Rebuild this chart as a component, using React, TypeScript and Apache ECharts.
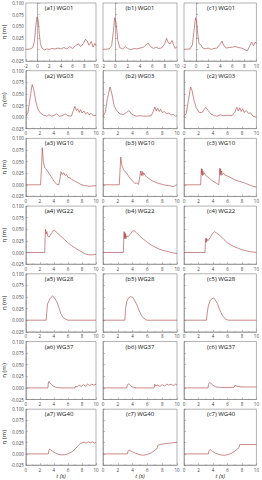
import React, { useEffect, useRef } from "react";
import * as echarts from "echarts";

// ---- data: [t (s), eta (m)] ----
const a1 = [[-2,0],[-1.2,0.001],[-0.8,0.004],[-0.5,0.02],[-0.3,0.05],[-0.1,0.07],[0.1,0.065],[0.3,0.035],[0.5,0.012],[0.8,0.002],[1.2,-0.001],[1.6,0.001],[2,0.0],[2.5,0.002],[3,0.001],[3.5,0.003],[4,0.001],[4.5,0.004],[5,0.001],[5.5,0.006],[6,0.002],[6.5,0.008],[7,0.012],[7.4,0.006],[7.8,0.012],[8.2,0.022],[8.5,0.018],[8.8,0.009],[9.2,0.017],[9.5,0.005],[9.8,0.013],[10,0.008]];
const b1 = [[-2,0],[-1,0.001],[-0.6,0.008],[-0.3,0.04],[-0.1,0.068],[0.1,0.06],[0.4,0.02],[0.7,0.004],[1.2,0.001],[1.6,0.006],[2,0.002],[2.5,-0.001],[3,0.002],[3.5,0.001],[4,0.003],[4.5,0.004],[5,0.01],[5.3,0.014],[5.7,0.006],[6.2,0.002],[6.6,0.005],[7,0.002],[7.5,0.003],[8,0.012],[8.3,0.024],[8.6,0.014],[8.9,0.012],[9.2,0.019],[9.5,0.008],[9.7,0.002],[10,0.006]];
const c1 = [[-2,0],[-1,0.001],[-0.6,0.01],[-0.3,0.045],[-0.1,0.068],[0.1,0.06],[0.3,0.03],[0.5,0.012],[0.8,0.01],[1.1,0.003],[1.5,0.001],[2,0.003],[2.5,0.0],[3,0.002],[3.5,0.003],[4,0.012],[4.3,0.018],[4.6,0.008],[5,0.003],[5.5,0.004],[6,0.005],[6.5,0.006],[7,0.004],[7.5,0.003],[8,0.0],[8.5,-0.003],[8.8,0.005],[9.2,0.016],[9.5,0.008],[9.8,0.016],[10,0.012]];

const a2 = [[0,0.002],[0.3,0.01],[0.6,0.04],[0.9,0.07],[1.1,0.062],[1.4,0.035],[1.7,0.018],[2,0.01],[2.5,0.004],[3,0.002],[3.3,0.005],[3.7,0.002],[4.1,0.004],[4.4,0.007],[4.8,0.002],[5.2,0.003],[5.6,0.007],[6,0.003],[6.5,0.002],[6.8,0.015],[7,0.023],[7.2,0.014],[7.4,0.018],[7.6,0.01],[7.8,0.016],[8,0.009],[8.3,0.013],[8.5,0.007],[8.8,0.01],[9,0.005],[9.3,0.008],[9.6,0.003],[10,0.004]];
const b2 = [[0,0.001],[0.3,0.01],[0.6,0.04],[0.95,0.065],[1.2,0.05],[1.5,0.025],[1.8,0.015],[2.2,0.008],[2.7,0.005],[3.2,0.01],[3.5,0.014],[3.9,0.006],[4.5,0.002],[5,0.003],[5.5,0.002],[6,0.002],[6.5,0.003],[6.8,0.012],[7,0.022],[7.2,0.013],[7.4,0.019],[7.6,0.012],[7.8,0.017],[8,0.01],[8.3,0.012],[8.6,0.007],[8.9,0.009],[9.2,0.005],[9.5,0.006],[9.8,0.002],[10,0.003]];
const c2 = [[0,0.001],[0.3,0.008],[0.6,0.035],[0.9,0.065],[1.1,0.058],[1.4,0.035],[1.7,0.02],[2.1,0.01],[2.5,0.01],[2.8,0.017],[3.0,0.021],[3.3,0.015],[3.7,0.007],[4.2,0.003],[4.6,0.002],[5,0.005],[5.4,0.003],[6,0.004],[6.6,0.003],[7,0.01],[7.3,0.021],[7.5,0.013],[7.7,0.02],[7.9,0.012],[8.1,0.018],[8.3,0.01],[8.6,0.014],[8.9,0.008],[9.2,0.009],[9.5,0.002],[10,0.0]];

const a3 = [[0,0],[2.1,0],[2.25,0.04],[2.35,0.08],[2.5,0.05],[2.7,0.036],[3,0.032],[3.3,0.025],[3.6,0.018],[4,0.008],[4.4,0.001],[4.7,0.0],[4.9,0.015],[5.0,0.028],[5.2,0.022],[5.4,0.026],[5.6,0.02],[5.8,0.022],[6,0.016],[6.3,0.015],[6.6,0.011],[7,0.008],[7.5,0.004],[7.8,0.001],[8.2,-0.001],[9,-0.003],[10,-0.002]];
const b3 = [[0,0],[2.2,0],[2.3,0.03],[2.4,0.06],[2.55,0.042],[2.8,0.032],[3.2,0.025],[3.6,0.015],[4,0.008],[4.3,0.003],[4.5,0.004],[4.8,0.001],[5,0.02],[5.1,0.03],[5.2,0.02],[5.3,0.029],[5.4,0.02],[5.5,0.026],[5.7,0.02],[6,0.016],[6.5,0.01],[7,0.006],[7.5,0.003],[8,0.001],[8.5,-0.001],[9,-0.002],[9.5,-0.004],[9.8,-0.001],[10,0.0]];
const c3 = [[0,0],[2.3,0],[2.35,0.02],[2.4,0.035],[2.45,0.022],[2.5,0.034],[2.55,0.02],[2.6,0.03],[2.7,0.022],[2.8,0.026],[3,0.02],[3.5,0.014],[4,0.008],[4.5,0.003],[4.8,0.0],[4.9,0.02],[4.95,0.036],[5.0,0.022],[5.05,0.034],[5.1,0.02],[5.2,0.03],[5.3,0.022],[5.5,0.025],[5.7,0.02],[6,0.019],[6.5,0.015],[7,0.011],[7.5,0.008],[8,0.006],[8.5,0.003],[9,0.0],[9.5,-0.003],[10,-0.005]];

const a4 = [[0,0],[2.7,0],[2.75,0.03],[2.8,0.05],[2.9,0.04],[3.0,0.045],[3.1,0.036],[3.3,0.033],[3.6,0.04],[3.9,0.047],[4.1,0.048],[4.4,0.043],[5,0.035],[5.5,0.028],[6,0.021],[6.5,0.015],[7,0.01],[7.5,0.005],[8,0.001],[8.5,-0.003],[9,-0.005],[9.5,-0.005],[10,-0.004]];
const b4 = [[0,0],[2.75,0],[2.8,0.025],[2.85,0.045],[2.9,0.03],[2.95,0.043],[3.0,0.03],[3.05,0.04],[3.1,0.03],[3.2,0.036],[3.4,0.034],[3.7,0.04],[4,0.046],[4.2,0.047],[4.5,0.043],[5,0.035],[5.5,0.028],[6,0.022],[6.5,0.016],[7,0.012],[7.5,0.008],[8,0.005],[8.5,0.003],[9,0.001],[9.5,-0.001],[10,-0.002]];
const c4 = [[0,0],[2.9,0],[2.95,0.02],[3.0,0.03],[3.05,0.022],[3.1,0.031],[3.15,0.024],[3.2,0.028],[3.35,0.026],[3.6,0.032],[3.9,0.04],[4.2,0.045],[4.5,0.042],[5,0.036],[5.5,0.028],[6,0.021],[6.5,0.016],[7,0.012],[7.5,0.009],[8,0.006],[8.5,0.004],[9,0.002],[9.5,0.001],[10,0.0]];

const a5 = [[0,0],[2.9,0],[3.0,0.02],[3.1,0.035],[3.3,0.042],[3.5,0.048],[3.8,0.052],[4.1,0.048],[4.4,0.04],[4.7,0.028],[5.0,0.014],[5.3,0.006],[5.6,0.003],[6.0,0.0],[10,0]];
const b5 = [[0,0],[2.95,0],[3.05,0.025],[3.2,0.04],[3.4,0.047],[3.7,0.051],[4.0,0.049],[4.3,0.042],[4.6,0.032],[4.9,0.02],[5.2,0.01],[5.5,0.004],[5.9,0.0],[10,0]];
const c5 = [[0,0],[3.1,0],[3.2,0.015],[3.35,0.03],[3.6,0.042],[3.9,0.047],[4.1,0.048],[4.3,0.044],[4.6,0.036],[4.9,0.024],[5.2,0.013],[5.5,0.006],[5.8,0.002],[6.1,0.0],[10,0]];

const a6 = [[0,0],[3.15,0],[3.2,0.01],[3.3,0.014],[3.4,0.011],[3.7,0.007],[4,0.003],[4.4,0.001],[5,0],[7.0,0],[7.1,0.004],[7.3,0.002],[7.6,0.006],[7.9,0.003],[8.2,0.007],[8.5,0.004],[8.8,0.008],[9.1,0.005],[9.4,0.008],[9.7,0.006],[10,0.008]];
const b6 = [[0,0],[3.2,0],[3.3,0.006],[3.45,0.009],[3.7,0.005],[4,0.002],[4.5,0.0],[6.9,0],[7.0,0.008],[7.1,0.004],[7.4,0.006],[7.7,0.003],[8,0.007],[8.3,0.004],[8.6,0.008],[8.9,0.006],[9.2,0.008],[9.5,0.005],[9.8,0.008],[10,0.006]];
const c6 = [[0,0],[3.3,0],[3.4,0.008],[3.55,0.012],[3.7,0.01],[4,0.006],[4.4,0.002],[5,0.001],[6.9,0.001],[7.05,0.006],[7.2,0.004],[7.5,0.003],[8,0.002],[9,0.002],[10,0.002]];

const a7 = [[0,0],[3.2,0],[3.3,0.008],[3.4,0.011],[3.6,0.008],[4,0.004],[4.5,0.0],[5,-0.002],[5.5,-0.002],[6,0.0],[6.5,0.004],[7,0.01],[7.3,0.016],[7.6,0.021],[8,0.025],[8.3,0.026],[8.6,0.024],[8.9,0.027],[9.2,0.025],[9.5,0.027],[9.8,0.024],[10,0.026]];
const b7 = [[0,0],[3.3,0],[3.4,0.007],[3.5,0.009],[3.8,0.006],[4.3,0.002],[5,-0.002],[5.5,-0.003],[6,-0.001],[6.5,0.002],[7,0.008],[7.3,0.012],[7.4,0.019],[7.7,0.021],[8,0.022],[8.5,0.023],[9,0.024],[9.5,0.025],[10,0.026]];
const c7 = [[0,0],[3.35,0],[3.45,0.007],[3.6,0.01],[3.9,0.006],[4.3,0.002],[5,-0.002],[5.5,-0.003],[6,-0.002],[6.5,0.001],[7,0.006],[7.3,0.01],[7.6,0.014],[7.7,0.021],[8,0.021],[9,0.021],[10,0.021]];

const panelData = [[a1, b1, c1], [a2, b2, c2], [a3, b3, c3], [a4, b4, c4], [a5, b5, c5], [a6, b6, c6], [a7, b7, c7]];
const panelTitles = [
  ["(a1) WG01", "(b1) WG01", "(c1) WG01"],
  ["(a2) WG03", "(b2) WG03", "(c2) WG03"],
  ["(a3) WG10", "(b3) WG10", "(c3) WG10"],
  ["(a4) WG22", "(b4) WG22", "(c4) WG22"],
  ["(a5) WG28", "(b5) WG28", "(c5) WG28"],
  ["(a6) WG37", "(b6) WG37", "(c6) WG37"],
  ["(a7) WG40", "(c7) WG40", "(c7) WG40"],
];
const xRanges = [[-2, 10], [0, 10], [0, 10], [0, 10], [0, 10], [0, 10], [0, 10]];
const yTicks = [-0.025, 0.1, 0.025];

export default function App() {
  const ref = useRef<HTMLDivElement>(null);
  useEffect(() => {
    if (!ref.current) return;
    const chart = echarts.init(ref.current, null, { renderer: "svg" });
    const FONT = "Open Sans";
    const colLeft = [22, 103, 184];
    const W = 74;
    const H = 58;
    const grids: any[] = [];
    const xAxes: any[] = [];
    const yAxes: any[] = [];
    const series: any[] = [];
    const titles: any[] = [];
    const lineColor = "#b04a4a";
    const axisColor = "#808080";
    let idx = 0;
    for (let r = 0; r < 7; r++) {
      const top = 3 + r * 67.7;
      for (let c = 0; c < 3; c++) {
        grids.push({
          left: colLeft[c], top, width: W, height: H,
          show: true, borderColor: axisColor, borderWidth: 0.6, backgroundColor: "transparent",
        });
        const last = r === 6;
        xAxes.push({
          type: "value", gridIndex: idx,
          min: xRanges[r][0], max: xRanges[r][1], interval: 2,
          axisLine: { show: true, onZero: false, lineStyle: { color: axisColor, width: 0.6 } },
          axisTick: { show: true, inside: true, length: 2, lineStyle: { color: axisColor, width: 0.5 } },
          minorTick: { show: true, splitNumber: 2, length: 1, lineStyle: { color: axisColor, width: 0.4 } },
          splitLine: { show: false },
          axisLabel: { show: true, fontSize: 4.5, margin: 2, color: "#444", fontFamily: FONT, showMinLabel: true, showMaxLabel: true },
          name: last ? "t (s)" : "",
          nameLocation: "middle", nameGap: 6,
          nameTextStyle: { fontSize: 6, color: "#222", fontFamily: FONT, fontStyle: "italic" },
        });
        yAxes.push({
          type: "value", gridIndex: idx,
          min: yTicks[0], max: yTicks[1], interval: yTicks[2],
          axisLine: { show: true, lineStyle: { color: axisColor, width: 0.6 } },
          axisTick: { show: true, inside: true, length: 2, lineStyle: { color: axisColor, width: 0.5 } },
          minorTick: { show: true, splitNumber: 2, length: 1, lineStyle: { color: axisColor, width: 0.4 } },
          splitLine: { show: false },
          axisLabel: {
            show: c === 0, fontSize: 4.5, margin: 2, color: "#444", fontFamily: FONT,
            formatter: (v: number) => v.toFixed(3), showMinLabel: true, showMaxLabel: true,
          },
          name: c === 0 ? "η (m)" : "",
          nameLocation: "middle", nameGap: 14, nameRotate: 90,
          nameTextStyle: { fontSize: 6, color: "#222", fontFamily: FONT },
        });
        series.push({
          type: "line", xAxisIndex: idx, yAxisIndex: idx,
          data: panelData[r][c], showSymbol: false, symbol: "none",
          lineStyle: { width: 0.65, color: lineColor }, silent: true,
        });
        titles.push({
          text: panelTitles[r][c], left: colLeft[c] + W / 2, top: top + 2, textAlign: "center",
          padding: 0,
          textStyle: { fontSize: 6, fontWeight: "normal", color: "#111", fontFamily: FONT },
        });
        idx++;
      }
    }
    chart.setOption({
      animation: false,
      backgroundColor: "#fff",
      title: titles,
      grid: grids,
      xAxis: xAxes,
      yAxis: yAxes,
      series,
    });
    return () => chart.dispose();
  }, []);
  return (
    <div
      ref={ref}
      style={{ position: "fixed", left: 0, top: 0, width: 262, height: 480, background: "#fff" }}
    />
  );
}
